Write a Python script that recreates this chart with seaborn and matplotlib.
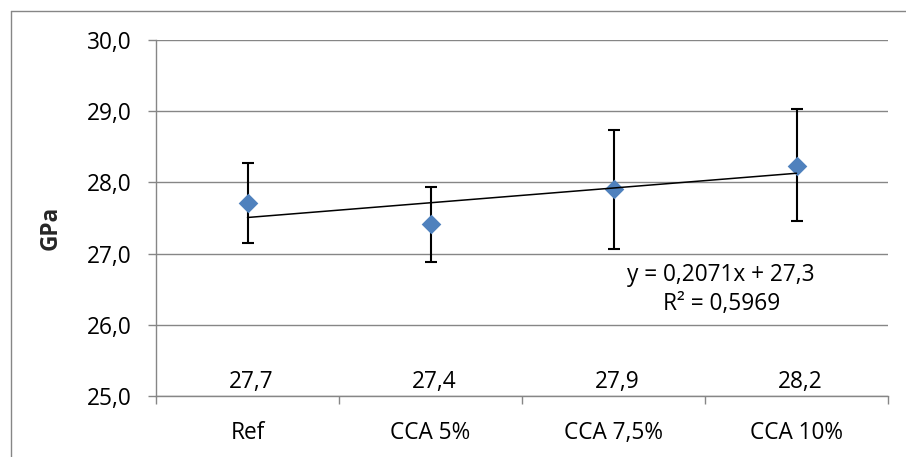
import matplotlib
matplotlib.use("Agg")
import matplotlib.pyplot as plt
from matplotlib.lines import Line2D
from matplotlib.ticker import FixedLocator, FuncFormatter
import numpy as np
import pandas as pd
import seaborn as sns

# ---- data ----
categories = ["Ref", "CCA 5%", "CCA 7,5%", "CCA 10%"]
means = [27.715, 27.416, 27.907, 28.235]
err_low = [27.152, 26.885, 27.062, 27.458]
err_high = [28.268, 27.940, 28.736, 29.027]
trend_slope = 0.2071
trend_intercept = 27.3
trend_r2 = 0.5969
y_ticks = [25.0, 26.0, 27.0, 28.0, 29.0, 30.0]
y_label = "GPa"

BLUE = "#4F81BD"
GRAY = "#868686"
FS = 16.3

sns.set_theme(style="white")
plt.rcParams["font.family"] = ["Open Sans", "DejaVu Sans"]

fig = plt.figure(figsize=(9.06, 4.57), dpi=100)
ax = fig.add_axes([156 / 906, 1 - 396 / 457, (888 - 156) / 906, (396 - 40) / 457])

xpos = np.arange(1, len(categories) + 1)
df = pd.DataFrame({"x": xpos, "mean": means, "cat": categories})

lower = np.array(means) - np.array(err_low)
upper = np.array(err_high) - np.array(means)
ax.errorbar(xpos, means, yerr=[lower, upper], fmt="none", ecolor="black",
            elinewidth=1.5, capsize=4.3, capthick=1.5, zorder=3)

sns.scatterplot(data=df, x="x", y="mean", marker="D", s=100, color=BLUE,
                edgecolor=BLUE, linewidth=0, ax=ax, zorder=4, legend=False)

trend_df = pd.DataFrame({"x": [xpos[0], xpos[-1]]})
trend_df["y"] = trend_slope * trend_df["x"] + trend_intercept
sns.lineplot(data=trend_df, x="x", y="y", color="black", linewidth=1.1, ax=ax, zorder=5)

ax.set_xlim(0.5, len(categories) + 0.5)
ax.set_ylim(y_ticks[0], y_ticks[-1])

# y axis
ax.yaxis.set_major_locator(FixedLocator(y_ticks))
ax.yaxis.set_major_formatter(FuncFormatter(lambda v, p: f"{v:.1f}".replace(".", ",")))
ax.tick_params(axis="y", which="major", left=True, length=5.8, width=1.0, color=GRAY,
               pad=12, labelsize=FS, labelcolor="black")
ax.grid(axis="y", color=GRAY, linewidth=1.0)
ax.set_axisbelow(True)

# x axis: labels at centres, ticks at boundaries
ax.set_xticks(xpos)
ax.set_xticklabels(categories)
ax.set_xticks(np.arange(0.5, len(categories) + 1, 1.0), minor=True)
ax.tick_params(axis="x", which="major", length=0, pad=18, labelsize=FS, labelcolor="black")
ax.tick_params(axis="x", which="minor", bottom=True, length=5.8, width=1.0, color=GRAY)
ax.set_xlabel("")

for s in ["top", "right"]:
    ax.spines[s].set_visible(False)
for s in ["left", "bottom"]:
    ax.spines[s].set_color(GRAY)
    ax.spines[s].set_linewidth(1.0)

ax.set_ylabel(y_label, fontsize=FS, fontweight="bold")
ax.yaxis.label.set_va("center")
ax.yaxis.set_label_coords((51 - 156) / 732, (396 - 228) / 356)

# value labels
for xi, v in zip(xpos, means):
    ax.text(xi + 0.02, 25.19, f"{v:.1f}".replace(".", ","), ha="center", va="center",
            fontsize=FS, color="black")

# trendline equation
eq = f"y = {trend_slope:.4f}x + {trend_intercept:.1f}".replace(".", ",")
r2 = f"R² = {trend_r2:.4f}".replace(".", ",")
ax.text(3.587, 26.70, eq, ha="center", va="center", fontsize=FS, color="black")
ax.text(3.593, 26.29, r2, ha="center", va="center", fontsize=FS, color="black")

# outer chart frame (cropped at right and bottom)
fig.add_artist(Line2D([10.5 / 906, 10.5 / 906], [0, 1 - 10.5 / 457], color=GRAY,
                      linewidth=1.0, transform=fig.transFigure))
fig.add_artist(Line2D([10.5 / 906, 1], [1 - 10.5 / 457, 1 - 10.5 / 457], color=GRAY,
                      linewidth=1.0, transform=fig.transFigure))

fig.savefig("out.png", dpi=100)
